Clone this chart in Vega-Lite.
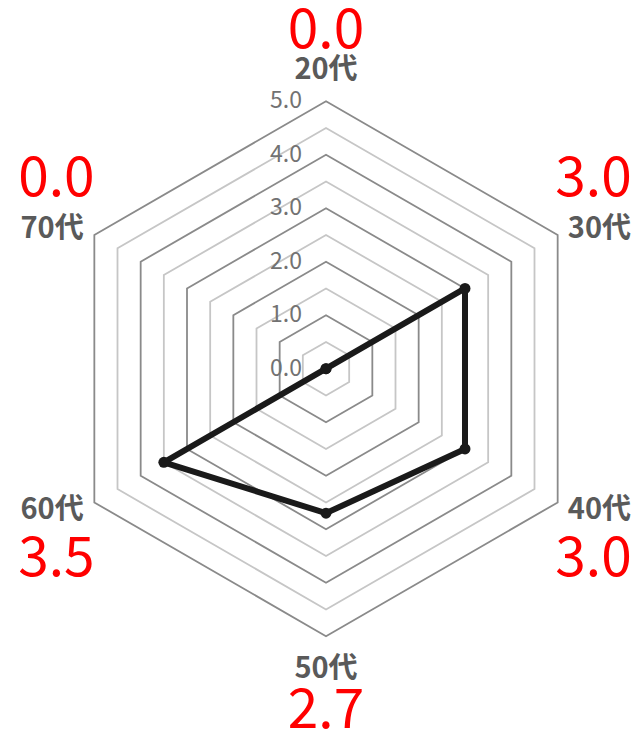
{
  "$schema": "https://vega.github.io/schema/vega-lite/v6.json",
  "width": 636,
  "height": 737,
  "autosize": {"type": "none"},
  "padding": 0,
  "background": "white",
  "config": {"view": {"stroke": null}},
  "datasets": {
    "scores": [
      {"age": "20代", "score": 0.0},
      {"age": "30代", "score": 3.0},
      {"age": "40代", "score": 3.0},
      {"age": "50代", "score": 2.7},
      {"age": "60代", "score": 3.5},
      {"age": "70代", "score": 0.0}
    ],
    "rings": [
      {"level": 0.5, "vertex": [0, 1, 2, 3, 4, 5]},
      {"level": 1.0, "vertex": [0, 1, 2, 3, 4, 5]},
      {"level": 1.5, "vertex": [0, 1, 2, 3, 4, 5]},
      {"level": 2.0, "vertex": [0, 1, 2, 3, 4, 5]},
      {"level": 2.5, "vertex": [0, 1, 2, 3, 4, 5]},
      {"level": 3.0, "vertex": [0, 1, 2, 3, 4, 5]},
      {"level": 3.5, "vertex": [0, 1, 2, 3, 4, 5]},
      {"level": 4.0, "vertex": [0, 1, 2, 3, 4, 5]},
      {"level": 4.5, "vertex": [0, 1, 2, 3, 4, 5]},
      {"level": 5.0, "vertex": [0, 1, 2, 3, 4, 5]}
    ],
    "ticks": [
      {"tick": 0}, {"tick": 1}, {"tick": 2}, {"tick": 3}, {"tick": 4}, {"tick": 5}
    ]
  },
  "layer": [
    {
      "data": {"name": "rings"},
      "transform": [
        {"flatten": ["vertex"]},
        {"calculate": "datum.level * sin(datum.vertex * PI / 3)", "as": "px"},
        {"calculate": "datum.level * cos(datum.vertex * PI / 3)", "as": "py"}
      ],
      "mark": {"type": "line", "interpolate": "linear-closed", "strokeWidth": 1.8},
      "encoding": {
        "x": {"field": "px", "type": "quantitative", "scale": {"domain": [-6.0935, 5.7944], "nice": false, "zero": false}, "axis": null},
        "y": {"field": "py", "type": "quantitative", "scale": {"domain": [-6.8841, 6.8916], "nice": false, "zero": false}, "axis": null},
        "detail": {"field": "level", "type": "nominal"},
        "order": {"field": "vertex", "type": "quantitative"},
        "color": {"condition": {"test": "datum.level % 1 === 0", "value": "#8a8a8a"}, "value": "#c6c6c6"}
      }
    },
    {
      "data": {"name": "ticks"},
      "mark": {"type": "text", "align": "right", "baseline": "middle", "dx": -24, "font": "Noto Sans CJK JP, sans-serif", "fontSize": 23, "color": "#727272"},
      "encoding": {
        "x": {"datum": 0, "type": "quantitative"},
        "y": {"field": "tick", "type": "quantitative"},
        "text": {"field": "tick", "type": "quantitative", "format": ".1f"}
      }
    },
    {
      "data": {"name": "scores"},
      "transform": [
        {"window": [{"op": "row_number", "as": "idx"}]},
        {"calculate": "(datum.idx - 1) * PI / 3", "as": "t"},
        {"calculate": "datum.score * sin(datum.t)", "as": "px"},
        {"calculate": "datum.score * cos(datum.t)", "as": "py"}
      ],
      "mark": {"type": "line", "interpolate": "linear-closed", "strokeWidth": 6, "color": "#1a1a1a", "strokeJoin": "round"},
      "encoding": {
        "x": {"field": "px", "type": "quantitative"},
        "y": {"field": "py", "type": "quantitative"},
        "order": {"field": "idx", "type": "quantitative"}
      }
    },
    {
      "data": {"name": "scores"},
      "transform": [
        {"window": [{"op": "row_number", "as": "idx"}]},
        {"calculate": "(datum.idx - 1) * PI / 3", "as": "t"},
        {"calculate": "datum.score * sin(datum.t)", "as": "px"},
        {"calculate": "datum.score * cos(datum.t)", "as": "py"}
      ],
      "mark": {"type": "point", "filled": true, "shape": "circle", "size": 120, "color": "#1a1a1a", "opacity": 1},
      "encoding": {
        "x": {"field": "px", "type": "quantitative"},
        "y": {"field": "py", "type": "quantitative"}
      }
    },
    {
      "data": {"name": "scores"},
      "transform": [
        {"window": [{"op": "row_number", "as": "idx"}]},
        {"calculate": "(datum.idx - 1) * PI / 3", "as": "t"},
        {"calculate": "5 * sin(datum.t) + (abs(sin(datum.t)) < 0.1 ? 0 : (sin(datum.t) > 0 ? 0.78 : -0.79))", "as": "px"},
        {"calculate": "5 * cos(datum.t) + (abs(sin(datum.t)) < 0.1 ? (cos(datum.t) > 0 ? 0.58 : -0.61) : (cos(datum.t) > 0 ? 0.11 : -0.14))", "as": "py"}
      ],
      "mark": {"type": "text", "align": "center", "baseline": "middle", "font": "Noto Sans CJK JP, sans-serif", "fontSize": 29, "fontWeight": "bold", "color": "#5a5a5a"},
      "encoding": {
        "x": {"field": "px", "type": "quantitative"},
        "y": {"field": "py", "type": "quantitative"},
        "text": {"field": "age", "type": "nominal"}
      }
    },
    {
      "data": {"name": "scores"},
      "transform": [
        {"window": [{"op": "row_number", "as": "idx"}]},
        {"calculate": "(datum.idx - 1) * PI / 3", "as": "t"},
        {"calculate": "abs(sin(datum.t)) < 0.1 ? 0 : (sin(datum.t) > 0 ? 5.0 : -5.04)", "as": "px"},
        {"calculate": "abs(sin(datum.t)) < 0.1 ? (cos(datum.t) > 0 ? 6.31 : -6.40) : (cos(datum.t) > 0 ? 3.55 : -3.55)", "as": "py"}
      ],
      "mark": {"type": "text", "align": "center", "baseline": "middle", "font": "Noto Sans CJK JP, sans-serif", "fontSize": 55, "color": "#ff0000"},
      "encoding": {
        "x": {"field": "px", "type": "quantitative"},
        "y": {"field": "py", "type": "quantitative"},
        "text": {"field": "score", "type": "quantitative", "format": ".1f"}
      }
    }
  ]
}
